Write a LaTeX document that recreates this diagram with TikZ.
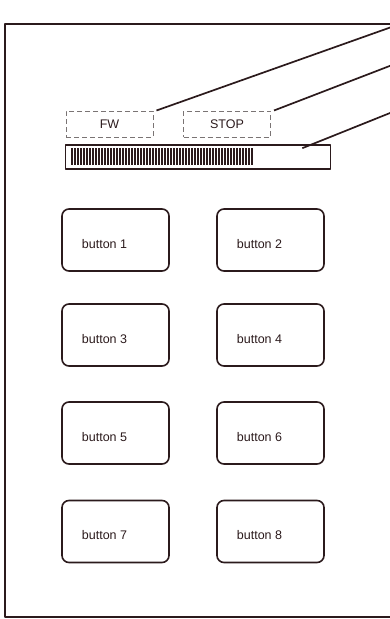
\documentclass[tikz,border=0pt]{standalone}
\usepackage{fontspec}
\setmainfont{Liberation Sans}
\usetikzlibrary{positioning}

\definecolor{inkc}{HTML}{2B1A1C}
\definecolor{dashc}{HTML}{7A7474}

\begin{document}
\begin{tikzpicture}[
    x=1pt, y=-1pt,
    line join=round,
    btn/.style={
        rectangle,
        rounded corners=7pt,
        draw=inkc,
        line width=1.6pt,
        minimum width=107pt,
        minimum height=62pt,
        inner sep=0pt,
        font=\fontsize{12.5}{14}\selectfont,
        text=inkc,
        text height=17pt,
        execute at begin node={\hspace*{-22pt}}
    },
    lbl/.style={
        rectangle,
        draw=dashc,
        line width=1pt,
        dash pattern=on 5pt off 3pt,
        minimum width=87pt,
        minimum height=26pt,
        inner sep=0pt,
        font=\fontsize{12.5}{14}\selectfont,
        text=inkc
    },
    lead/.style={
        draw=inkc,
        line width=1.7pt
    }
]

\useasboundingbox (0,0) rectangle (390,619);
\clip (0,0) rectangle (390,619);

% outer frame
\draw[inkc, line width=2pt] (5,24) rectangle (420,617);

% status labels
\node[lbl] (fw) at (109.5,124) {FW};
\node[lbl] (stop) at (227,124) {STOP};

% progress bar
\node[rectangle, draw=inkc, line width=1.6pt, minimum width=265pt,
      minimum height=24pt, inner sep=0pt] (bar) at (198,157) {};
\foreach \x in {72,75,...,252}
    \draw[inkc, line width=1.1pt] (\x,148) -- (\x,165);

% leader lines
\coordinate (fwend) at (400,24);
\coordinate (stopend) at (400,62);
\coordinate (barend) at (400,109);
\coordinate (barpt) at ([xshift=-29pt,yshift=-4pt]bar.north east);
\draw[lead] ([xshift=3pt]fw.north east) -- (fwend);
\draw[lead] ([xshift=3pt]stop.north east) -- (stopend);
\draw[lead] (barpt) -- (barend);

% buttons
\node[btn] (b1) at (115.5,240) {button 1};
\node[btn] (b2) at (270.5,240) {button 2};
\node[btn] (b3) at (115.5,335) {button 3};
\node[btn] (b4) at (270.5,335) {button 4};
\node[btn] (b5) at (115.5,433) {button 5};
\node[btn] (b6) at (270.5,433) {button 6};
\node[btn] (b7) at (115.5,531.5) {button 7};
\node[btn] (b8) at (270.5,531.5) {button 8};

\end{tikzpicture}
\end{document}
